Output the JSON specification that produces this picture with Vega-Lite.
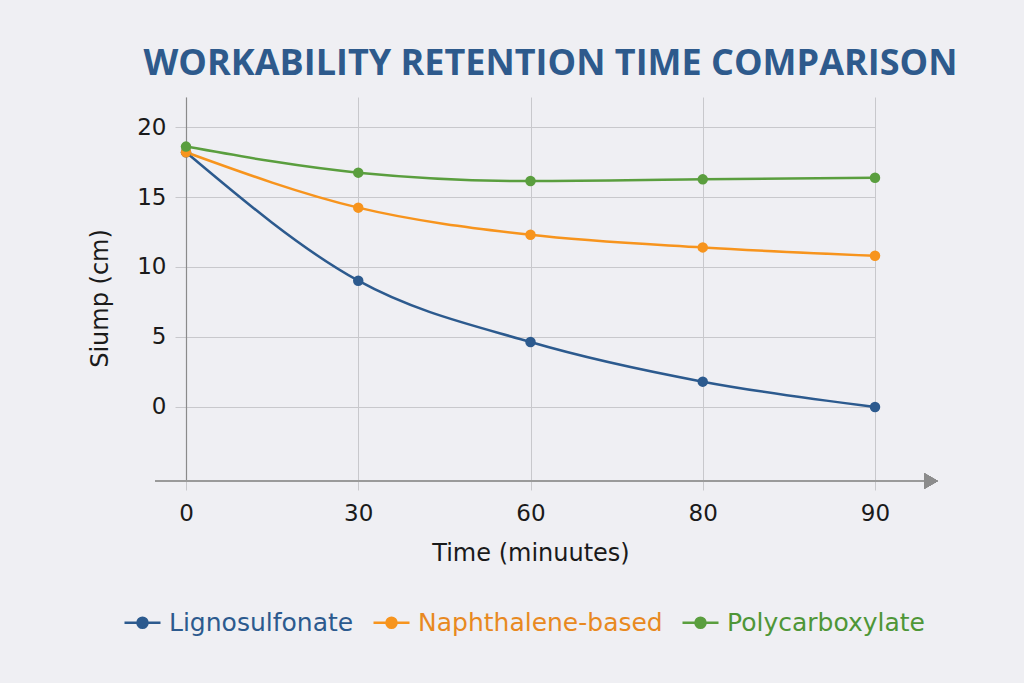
{
  "$schema": "https://vega.github.io/schema/vega-lite/v6.json",
  "autosize": "none",
  "width": 689,
  "height": 384,
  "padding": {"left": 186, "top": 97, "right": 149, "bottom": 202},
  "background": "#efeff3",
  "config": {
    "view": {"stroke": null},
    "font": "DejaVu Sans"
  },
  "title": {
    "text": "WORKABILITY RETENTION TIME COMPARISON",
    "font": "Open Sans",
    "fontSize": 36,
    "fontWeight": "bold",
    "color": "#2e5a8c",
    "anchor": "middle",
    "frame": "group",
    "dx": 20,
    "offset": 14
  },
  "data": {
    "values": [
      {"time": "0", "series": "Lignosulfonate", "slump": 18.2},
      {"time": "30", "series": "Lignosulfonate", "slump": 9.02},
      {"time": "60", "series": "Lignosulfonate", "slump": 4.64},
      {"time": "80", "series": "Lignosulfonate", "slump": 1.81},
      {"time": "90", "series": "Lignosulfonate", "slump": 0.0},
      {"time": "0", "series": "Naphthalene-based", "slump": 18.2},
      {"time": "30", "series": "Naphthalene-based", "slump": 14.24},
      {"time": "60", "series": "Naphthalene-based", "slump": 12.3},
      {"time": "80", "series": "Naphthalene-based", "slump": 11.4},
      {"time": "90", "series": "Naphthalene-based", "slump": 10.8},
      {"time": "0", "series": "Polycarboxylate", "slump": 18.6},
      {"time": "30", "series": "Polycarboxylate", "slump": 16.74},
      {"time": "60", "series": "Polycarboxylate", "slump": 16.14},
      {"time": "80", "series": "Polycarboxylate", "slump": 16.26},
      {"time": "90", "series": "Polycarboxylate", "slump": 16.38}
    ]
  },
  "layer": [
    {
      "mark": {"type": "line", "interpolate": "monotone", "strokeWidth": 2.5, "point": {"filled": true, "size": 110, "opacity": 1}},
      "encoding": {
        "x": {
          "field": "time",
          "type": "ordinal",
          "sort": ["0", "30", "60", "80", "90"],
          "scale": {"type": "point", "padding": 0, "domain": ["0", "30", "60", "80", "90"]},
          "axis": {
            "title": "Time (minuutes)",
            "labelAngle": 0,
            "labelAlign": "center",
            "labelBaseline": "top",
            "domain": false,
            "grid": true,
            "gridColor": "#c8c8cc",
            "gridWidth": 1,
            "tickColor": "#c8c8cc",
            "tickSize": 9,
            "labelFont": "DejaVu Sans",
            "labelFontSize": 23,
            "labelColor": "#1a1a1a",
            "labelPadding": 12,
            "titleFont": "DejaVu Sans",
            "titleFontSize": 24,
            "titleFontWeight": "normal",
            "titleColor": "#1a1a1a",
            "titlePadding": 16
          }
        },
        "y": {
          "field": "slump",
          "type": "quantitative",
          "scale": {"domain": [-5.286, 22.143], "nice": false, "zero": false},
          "axis": {
            "title": "Siump (cm)",
            "titleY": 201,
            "values": [0, 5, 10, 15, 20],
            "domain": true,
            "domainColor": "#8a8a8a",
            "domainWidth": 1.2,
            "grid": true,
            "gridColor": "#c8c8cc",
            "tickColor": "#c8c8cc",
            "tickSize": 11,
            "labelFont": "DejaVu Sans",
            "labelFontSize": 23,
            "labelColor": "#1a1a1a",
            "labelPadding": 9,
            "titleFont": "DejaVu Sans",
            "titleFontSize": 24,
            "titleFontWeight": "normal",
            "titleColor": "#1a1a1a",
            "titlePadding": 24
          }
        },
        "color": {
          "field": "series",
          "type": "nominal",
          "scale": {
            "domain": ["Lignosulfonate", "Naphthalene-based", "Polycarboxylate"],
            "range": ["#2c5a8e", "#f7941d", "#5a9e3e"]
          },
          "legend": {
            "title": null,
            "orient": "none",
            "legendX": -63,
            "legendY": 506,
            "direction": "horizontal",
            "columns": 3,
            "columnPadding": 14,
            "symbolType": "M-1,0L1,0M0.28,0A0.28,0.28,0,1,1,-0.28,0A0.28,0.28,0,1,1,0.28,0Z",
            "symbolSize": 1296,
            "symbolStrokeWidth": 2.5,
            "labelFont": "DejaVu Sans",
            "labelFontSize": 25,
            "labelLimit": 400,
            "labelOffset": 7,
            "encode": {
              "symbols": {"update": {"fill": {"scale": "color", "field": "value"}, "stroke": {"scale": "color", "field": "value"}, "opacity": {"value": 1}}},
              "labels": {"update": {"fill": {"signal": "datum.value === 'Lignosulfonate' ? '#2c5a8e' : datum.value === 'Naphthalene-based' ? '#e8891f' : '#4e9637'"}}}
            }
          }
        }
      }
    },
    {
      "mark": {"type": "rule", "xOffset": -31, "x2Offset": 52, "color": "#9a9a9a", "strokeWidth": 1.5},
      "encoding": {
        "x": {"datum": "0", "type": "ordinal"},
        "x2": {"datum": "90"},
        "y": {"datum": -5.286, "type": "quantitative"}
      }
    },
    {
      "mark": {"type": "point", "shape": "triangle-right", "filled": true, "color": "#8c8c8c", "size": 240, "opacity": 1, "xOffset": 56},
      "encoding": {
        "x": {"datum": "90", "type": "ordinal"},
        "y": {"datum": -5.286, "type": "quantitative"}
      }
    }
  ]
}
